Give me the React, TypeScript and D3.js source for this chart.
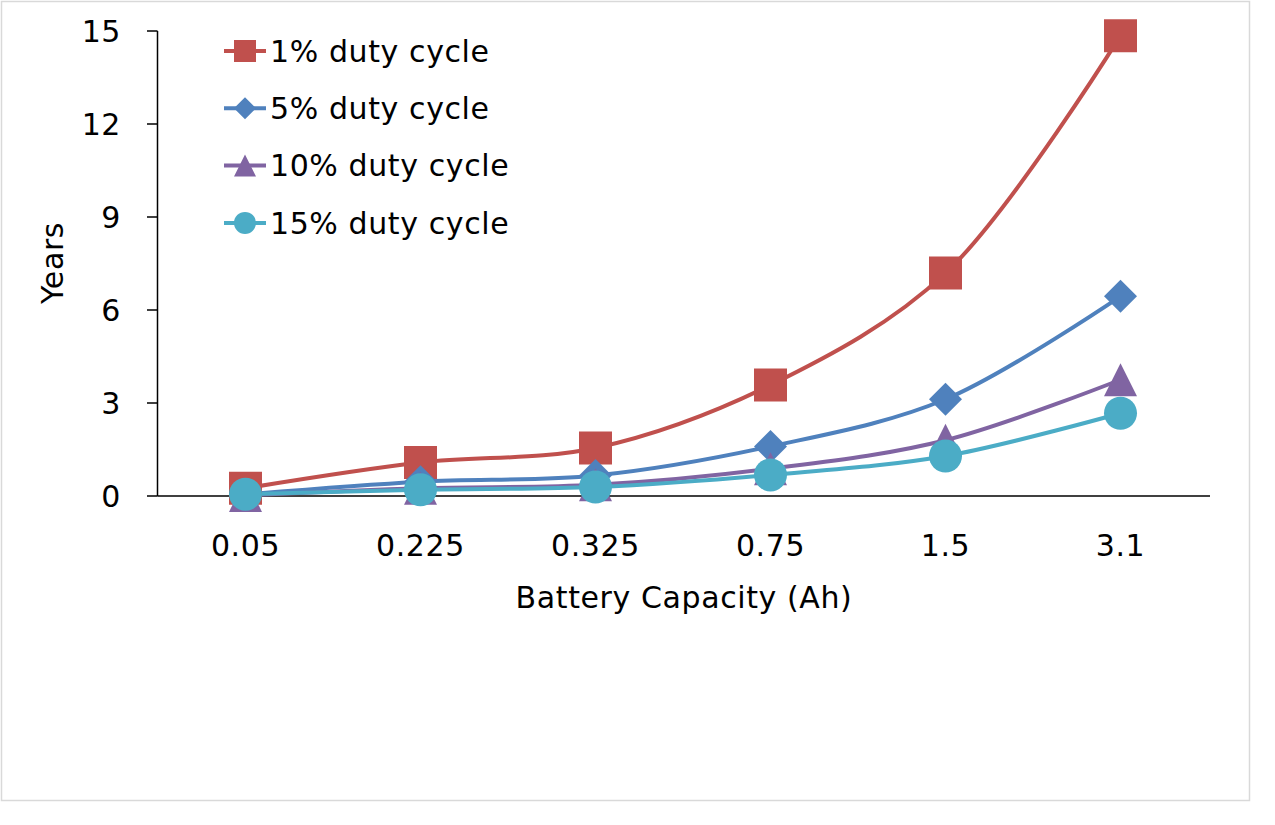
import React, { useEffect, useRef } from "react";
import * as d3 from "d3";

const categories = ["0.05", "0.225", "0.325", "0.75", "1.5", "3.1"];
const duty1 = [0.25, 1.08, 1.55, 3.58, 7.19, 14.85];
const duty5 = [0.05, 0.46, 0.66, 1.6, 3.12, 6.44];
const duty10 = [0.02, 0.25, 0.36, 0.88, 1.8, 3.75];
const duty15 = [0.06, 0.2, 0.29, 0.68, 1.29, 2.67];
const yTicks = [0, 3, 6, 9, 12, 15];

const seriesNames = ["1% duty cycle", "5% duty cycle", "10% duty cycle", "15% duty cycle"];
const seriesColors = ["#C0504D", "#4F81BD", "#8064A2", "#4BACC6"];
const seriesShapes = ["square", "diamond", "triangle", "circle"];
const seriesValues = [duty1, duty5, duty10, duty15];

const W = 1275;
const H = 825;
const FONT = "'DejaVu Sans', sans-serif";
const FS = 30;
const LS = 0.6;

function symbolPath(shape: string, size: number): string {
  const s = size / 2;
  if (shape === "square") return `M${-s},${-s}H${s}V${s}H${-s}Z`;
  if (shape === "diamond") return `M0,${-s}L${s},0L0,${s}L${-s},0Z`;
  if (shape === "triangle") return `M0,${-s}L${s},${s}L${-s},${s}Z`;
  return d3.arc()({ innerRadius: 0, outerRadius: s, startAngle: 0, endAngle: Math.PI * 2 }) as string;
}

export default function App() {
  const ref = useRef<SVGSVGElement | null>(null);

  useEffect(() => {
    const svg = d3.select(ref.current);
    svg.selectAll("*").remove();

    svg
      .append("rect")
      .attr("x", 1.5)
      .attr("y", 1.5)
      .attr("width", 1248)
      .attr("height", 799)
      .attr("fill", "#fff")
      .attr("stroke", "#d9d9d9")
      .attr("stroke-width", 1.5);

    const x = d3.scaleBand<string>().domain(categories).range([158, 1208]);
    const y = d3.scaleLinear().domain([0, 15]).range([496, 31]);

    // y axis
    const yAxis = svg.append("g");
    yAxis
      .append("line")
      .attr("x1", 157.5)
      .attr("x2", 157.5)
      .attr("y1", y(15))
      .attr("y2", y(0))
      .attr("stroke", "#000")
      .attr("stroke-width", 1.5);
    yTicks.forEach((t) => {
      yAxis
        .append("line")
        .attr("x1", 147)
        .attr("x2", 157.5)
        .attr("y1", y(t))
        .attr("y2", y(t))
        .attr("stroke", "#000")
        .attr("stroke-width", 1.5);
      yAxis
        .append("text")
        .attr("x", 121)
        .attr("y", y(t))
        .attr("dy", "0.36em")
        .attr("text-anchor", "end")
        .attr("font-family", FONT)
        .attr("font-size", FS)
        .attr("letter-spacing", LS)
        .text(String(t));
    });

    // x axis
    svg
      .append("line")
      .attr("x1", 157.5)
      .attr("x2", 1210)
      .attr("y1", y(0))
      .attr("y2", y(0))
      .attr("stroke", "#000")
      .attr("stroke-width", 1.5);
    categories.forEach((c) => {
      svg
        .append("text")
        .attr("x", (x(c) as number) + x.bandwidth() / 2)
        .attr("y", 545)
        .attr("dy", "0.36em")
        .attr("text-anchor", "middle")
        .attr("font-family", FONT)
        .attr("font-size", FS)
        .attr("letter-spacing", LS)
        .text(c);
    });

    svg
      .append("text")
      .attr("x", 684)
      .attr("y", 597)
      .attr("dy", "0.36em")
      .attr("text-anchor", "middle")
      .attr("font-family", FONT)
      .attr("font-size", FS)
      .attr("letter-spacing", LS)
      .text("Battery Capacity (Ah)");

    svg
      .append("text")
      .attr("transform", "translate(52,263) rotate(-90)")
      .attr("dy", "0.36em")
      .attr("text-anchor", "middle")
      .attr("font-family", FONT)
      .attr("font-size", FS)
      .attr("letter-spacing", LS)
      .text("Years");

    const line = d3
      .line<number>()
      .x((_, i) => (x(categories[i]) as number) + x.bandwidth() / 2)
      .y((v) => y(v))
      .curve(d3.curveCatmullRom.alpha(0.5));

    seriesValues.forEach((vals, si) => {
      svg
        .append("path")
        .attr("d", line(vals))
        .attr("fill", "none")
        .attr("stroke", seriesColors[si])
        .attr("stroke-width", 4);
    });

    seriesValues.forEach((vals, si) => {
      vals.forEach((v, i) => {
        svg
          .append("path")
          .attr("d", symbolPath(seriesShapes[si], 33))
          .attr(
            "transform",
            `translate(${(x(categories[i]) as number) + x.bandwidth() / 2},${y(v)})`
          )
          .attr("fill", seriesColors[si]);
      });
    });

    // legend
    seriesNames.forEach((name, si) => {
      const ly = 51 + si * 57.3;
      const g = svg.append("g");
      g.append("line")
        .attr("x1", 224)
        .attr("x2", 266)
        .attr("y1", ly)
        .attr("y2", ly)
        .attr("stroke", seriesColors[si])
        .attr("stroke-width", 4);
      g.append("path")
        .attr("d", symbolPath(seriesShapes[si], 22))
        .attr("transform", `translate(245,${ly})`)
        .attr("fill", seriesColors[si]);
      g.append("text")
        .attr("x", 270)
        .attr("y", ly)
        .attr("dy", "0.36em")
        .attr("font-family", FONT)
        .attr("font-size", FS)
        .attr("letter-spacing", LS)
        .text(name);
    });
  }, []);

  return (
    <svg
      ref={ref}
      width={W}
      height={H}
      style={{ position: "absolute", left: 0, top: 0, background: "#fff" }}
    />
  );
}
